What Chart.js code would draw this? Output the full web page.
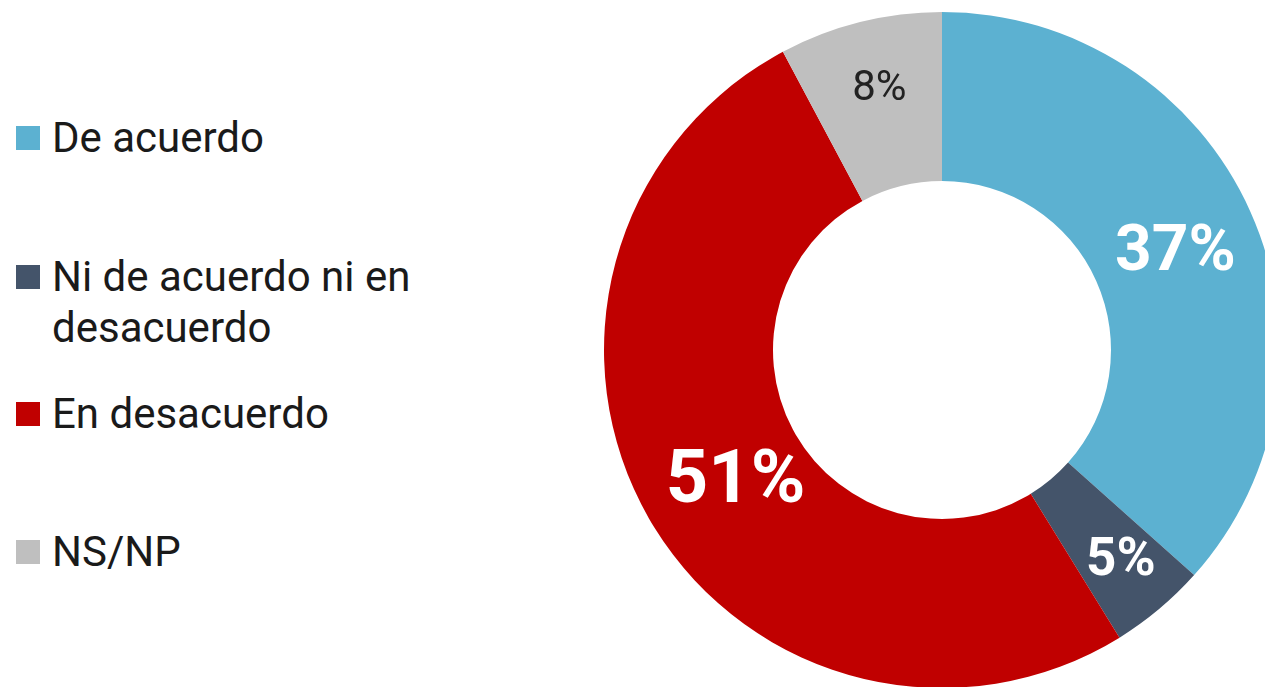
<!DOCTYPE html>
<html>
<head>
<meta charset="utf-8">
<script src="https://cdn.jsdelivr.net/npm/chart.js@4"></script>
<style>
  html, body { margin: 0; padding: 0; background: #fff; overflow: hidden; }
  body { width: 1265px; height: 687px; position: relative; font-family: Roboto, sans-serif; }
  #chartBox { position: absolute; left: 604px; top: 12px; width: 676px; height: 676px; }
  .legend-item { position: absolute; left: 16px; display: flex; align-items: flex-start; color: #1a1a1a; font-size: 42px; line-height: 51px; }
  .legend-box { width: 24px; height: 24px; margin-right: 12px; margin-top: 14px; flex: none; }
  .legend-text { width: 390px; }
</style>
</head>
<body>
<div id="legend"></div>
<div id="chartBox"><canvas id="donut"></canvas></div>
<script>
const labels = ['De acuerdo', 'Ni de acuerdo ni en desacuerdo', 'En desacuerdo', 'NS/NP'];
const values = [36.6, 4.6, 51.0, 7.8];
const colors = ['#5CB1D1', '#44546A', '#C00000', '#BFBFBF'];

document.addEventListener('DOMContentLoaded', function() {
    // legend on the left, built from the same arrays
    const legendTops = [112, 251, 388, 526];
    const legend = document.getElementById('legend');
    labels.forEach((name, i) => {
        const item = document.createElement('div');
        item.className = 'legend-item';
        item.style.top = legendTops[i] + 'px';
        const box = document.createElement('div');
        box.className = 'legend-box';
        box.style.background = colors[i];
        const txt = document.createElement('div');
        txt.className = 'legend-text';
        txt.innerText = name;
        item.appendChild(box);
        item.appendChild(txt);
        legend.appendChild(item);
    });

    // percentage labels drawn inside each slice
    const sliceLabels = {
        id: 'sliceLabels',
        afterDatasetsDraw(chart) {
            const ctx = chart.ctx;
            const meta = chart.getDatasetMeta(0);
            const fonts = ['bold 64px Roboto', 'bold 53px Roboto', 'bold 74px Roboto', '42px Roboto'];
            const textColors = ['#fff', '#fff', '#fff', '#222'];
            const radial = [0.5, 0.62, 0.47, 0.6];
            const nudge = [[2, 8], [3, 2], [9, 10], [3, 2]];
            meta.data.forEach((arc, i) => {
                const p = arc.getProps(['x', 'y', 'startAngle', 'endAngle', 'innerRadius', 'outerRadius'], true);
                const mid = (p.startAngle + p.endAngle) / 2;
                const r = p.innerRadius + (p.outerRadius - p.innerRadius) * radial[i];
                ctx.save();
                ctx.font = fonts[i];
                ctx.fillStyle = textColors[i];
                ctx.textAlign = 'center';
                ctx.textBaseline = 'middle';
                ctx.fillText(Math.round(values[i]) + '%', p.x + Math.cos(mid) * r + nudge[i][0], p.y + Math.sin(mid) * r + nudge[i][1]);
                ctx.restore();
            });
        }
    };

    const ctx = document.getElementById('donut').getContext('2d');
    new Chart(ctx, {
        type: 'doughnut',
        data: {
            labels: labels,
            datasets: [{
                data: values,
                backgroundColor: colors,
                borderWidth: 0
            }]
        },
        options: {
            responsive: true,
            maintainAspectRatio: false,
            animation: false,
            cutout: '50%',
            layout: { padding: 0 },
            plugins: { legend: { display: false }, tooltip: { enabled: false } }
        },
        plugins: [sliceLabels]
    });
});
</script>
</body>
</html>
